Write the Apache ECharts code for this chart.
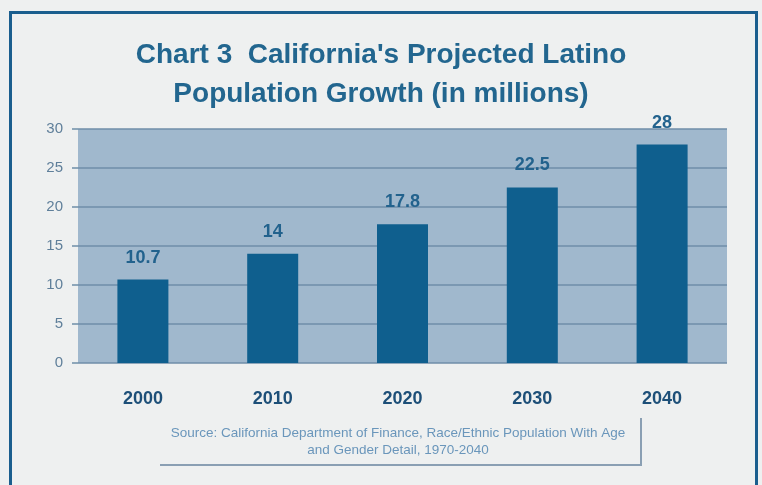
<!DOCTYPE html>
<html><head><meta charset="utf-8">
<script src="https://cdn.jsdelivr.net/npm/echarts@6/dist/echarts.min.js"></script>
<style>html,body{margin:0;padding:0;background:#eef0f0;}#c{width:762px;height:485px;}</style>
</head><body><div id="c"></div>
<script>
const categories = ['2000','2010','2020','2030','2040'];
const values = [10.7, 14, 17.8, 22.5, 28];
const valueLabels = ['10.7','14','17.8','22.5','28'];
const titleLines = ["Chart 3  California's Projected Latino", "Population Growth (in millions)"];
const sourceLines = ["Source: California Department of Finance, Race/Ethnic Population With Age", "and Gender Detail, 1970-2040"];

const chart = echarts.init(document.getElementById('c'));
const fontFam = "'Liberation Sans',Arial,sans-serif";
chart.setOption({
  backgroundColor: '#eef0f0',
  animation: false,
  title: {
    text: titleLines.join('\n'),
    left: 'center', top: 31,
    textStyle: {fontFamily: fontFam, fontSize: 28, fontWeight: 'bold', color: '#22668f', lineHeight: 39}
  },
  grid: {left: 78, right: 35, top: 129, bottom: 122},
  xAxis: {
    type: 'category', data: categories,
    axisLine: {show: false}, axisTick: {show: false},
    axisLabel: {margin: 27, fontFamily: fontFam, fontSize: 18, fontWeight: 'bold', color: '#1d4f78'}
  },
  yAxis: {
    type: 'value', min: 0, max: 30, interval: 5,
    axisLine: {show: false},
    axisTick: {show: true, length: 6, lineStyle: {color: '#6f8ea8', width: 1.5}},
    axisLabel: {margin: 15, fontFamily: fontFam, fontSize: 15, color: '#5f7f9a'},
    splitLine: {lineStyle: {color: '#6f8ea8', width: 1.5}},
    splitArea: {show: false}
  },
  graphic: [
    {type: 'rect', z: -10, shape: {x: 78, y: 129, width: 649, height: 234}, style: {fill: '#a0b8cd'}},
    {type: 'rect', z: 100, shape: {x: 10.5, y: 12.5, width: 746, height: 520}, style: {fill: 'none', stroke: '#1a5e8e', lineWidth: 3}},
    {type: 'polyline', shape: {points: [[160, 465], [641, 465], [641, 418]]}, style: {stroke: '#8a9fb3', lineWidth: 2, fill: 'none'}},
    {type: 'text', x: 398, y: 425, style: {text: sourceLines.join('\n'), textAlign: 'center', fontFamily: fontFam, fontSize: 13.5, lineHeight: 17, fill: '#6a96bb'}}
  ],
  series: [{
    type: 'bar', data: values, barWidth: 51,
    itemStyle: {color: '#0f5f8e'},
    label: {show: true, position: 'top', distance: 13,
      formatter: p => valueLabels[p.dataIndex],
      fontFamily: fontFam, fontSize: 18, fontWeight: 'bold', color: '#22628d'}
  }]
});
</script></body></html>
